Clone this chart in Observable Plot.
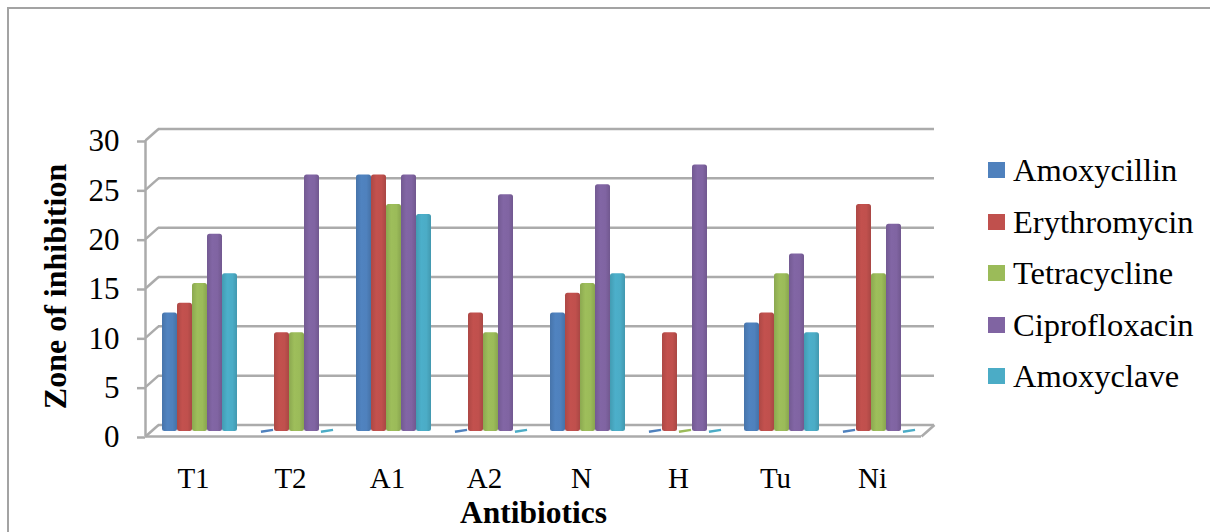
<!DOCTYPE html>
<html>
<head>
<meta charset="utf-8">
<script src="https://cdn.jsdelivr.net/npm/d3@7"></script>
<script src="https://cdn.jsdelivr.net/npm/@observablehq/plot@0.6"></script>
<style>
  html, body { margin: 0; padding: 0; background: #fff; overflow: hidden; }
  #chart { position: relative; width: 1210px; height: 532px; font-family: "Liberation Serif", serif; }
  #frame { position: absolute; left: 7px; top: 7px; right: 0; bottom: 0; border-top: 2px solid #a3a3a3; border-left: 2px solid #a3a3a3; }
  #legend { position: absolute; left: 988px; top: 145px; }
  .row { position: absolute; left: 0; height: 51px; white-space: nowrap; font-size: 32.5px; color: #000; line-height: 51px; }
  .swatch { position: absolute; left: 0; top: 17px; width: 17px; height: 16px; }
  .name { position: absolute; left: 25px; top: 0; }
  svg { position: absolute; left: 0; top: 0; font-family: "Liberation Serif", serif; }
  g[aria-label="rect"], g[aria-label="rule"], g[aria-label="link"] { filter: blur(0.7px); }
</style>
</head>
<body>
<div id="chart"><div id="frame"></div><div id="legend"></div></div>
<script>
const categories = ["T1", "T2", "A1", "A2", "N", "H", "Tu", "Ni"];
const seriesNames = ["Amoxycillin", "Erythromycin", "Tetracycline", "Ciprofloxacin", "Amoxyclave"];
const seriesColors = ["#4f81bd", "#c0504d", "#9bbb59", "#8064a2", "#4bacc6"];
const amoxycillin   = [12, 0, 26, 0, 12, 0, 11, 0];
const erythromycin  = [13, 10, 26, 12, 14, 10, 12, 23];
const tetracycline  = [15, 10, 23, 10, 15, 0, 16, 16];
const ciprofloxacin = [20, 26, 26, 24, 25, 27, 18, 21];
const amoxyclave    = [16, 0, 22, 0, 16, 0, 10, 0];
const yTicks = [0, 5, 10, 15, 20, 25, 30];

const seriesValues = [amoxycillin, erythromycin, tetracycline, ciprofloxacin, amoxyclave];
const barShare = 15 / 97;
const gutter = (1 - barShare * seriesNames.length) / 2;
const rows = seriesValues.flatMap((vals, s) => vals.map((value, c) => ({
  s, value, x1: c + gutter + s * barShare, x2: c + gutter + (s + 1) * barShare
})));

function gradients() {
  const defs = d3.create("svg:defs");
  seriesColors.forEach((col, i) => {
    const g = defs.append("linearGradient").attr("id", "g" + i);
    const c = d3.color(col);
    g.append("stop").attr("offset", "0%").attr("stop-color", c.darker(0.3));
    g.append("stop").attr("offset", "35%").attr("stop-color", c.brighter(0.05));
    g.append("stop").attr("offset", "70%").attr("stop-color", col);
    g.append("stop").attr("offset", "100%").attr("stop-color", c.darker(0.35));
  });
  return defs.node();
}

const wall = { stroke: "#ababab", strokeWidth: 2.5 };
const plot = Plot.plot({
  width: 1210, height: 532,
  marginLeft: 151, marginRight: 283, marginTop: 135, marginBottom: 101,
  style: { background: "transparent", overflow: "visible" },
  x: { type: "linear", domain: [0, categories.length], axis: null },
  y: { type: "linear", domain: [0, 30], axis: null },
  marks: [
    gradients,
    Plot.ruleY(yTicks, { y: d => d, x1: 0, x2: 8, dx: 7, dy: -6.5, ...wall }),
    Plot.ruleY([0], { x1: 0, x2: 8, dx: -6, dy: 5, ...wall }),
    Plot.link(yTicks, { x1: -6 / 97, x2: 7 / 97, y1: d => d - 5 / 9.87, y2: d => d + 6.5 / 9.87, ...wall }),
    Plot.link([0], { x1: 8 - 6 / 97, x2: 8 + 7 / 97, y1: -5 / 9.87, y2: 6.5 / 9.87, ...wall }),
    Plot.ruleX([0], { y1: 0, y2: 30, dx: -6, dy: 5, ...wall }),
    ...seriesNames.flatMap((name, i) => [
      Plot.rectY(rows.filter(r => r.s === i && r.value > 0), {
        x1: "x1", x2: "x2", y1: 0, y2: "value",
        fill: `url(#g${i})`, rx: 2.5, title: () => name
      }),
      Plot.link(rows.filter(r => r.s === i && r.value === 0), {
        x1: d => d.x1 + 0.015, x2: d => d.x2 - 0.015,
        y1: -0.03, y2: 0.17, stroke: seriesColors[i], strokeWidth: 2.4
      })
    ]),
    Plot.axisY({
      ticks: yTicks, tickSize: 8, tickPadding: 18, dx: -6, dy: 6, stroke: "#ababab", strokeWidth: 2.5,
      fontSize: 31, label: null, color: "#000", tickFormat: d => d
    }),
    Plot.axisX({
      ticks: categories.map((_, i) => i + 0.5), tickFormat: t => categories[Math.floor(t)],
      tickSize: 0, tickPadding: 36, dx: -6.5, fontSize: 29, label: null, color: "#000"
    }),
    Plot.text(["Antibiotics"], { frameAnchor: "bottom", dy: 91, dx: -6, fontSize: 31.5, fontWeight: "bold", fill: "#000", lineAnchor: "bottom", text: d => d, fontFamily: "Liberation Serif" }),
    Plot.text(["Zone of inhibition"], { frameAnchor: "left", textAnchor: "middle", dx: -96, dy: 3, rotate: -90, fontSize: 32, fontWeight: "bold", fill: "#000", text: d => d, fontFamily: "Liberation Serif" })
  ]
});
document.getElementById("chart").appendChild(plot);
document.getElementById("chart").appendChild(document.getElementById("legend"));

const legend = d3.select("#legend");
seriesNames.forEach((name, i) => {
  const row = legend.append("div").attr("class", "row").style("top", (i * 51.5) + "px");
  row.append("div").attr("class", "swatch").style("background", seriesColors[i]);
  row.append("div").attr("class", "name").text(name);
});
</script>
</body>
</html>
